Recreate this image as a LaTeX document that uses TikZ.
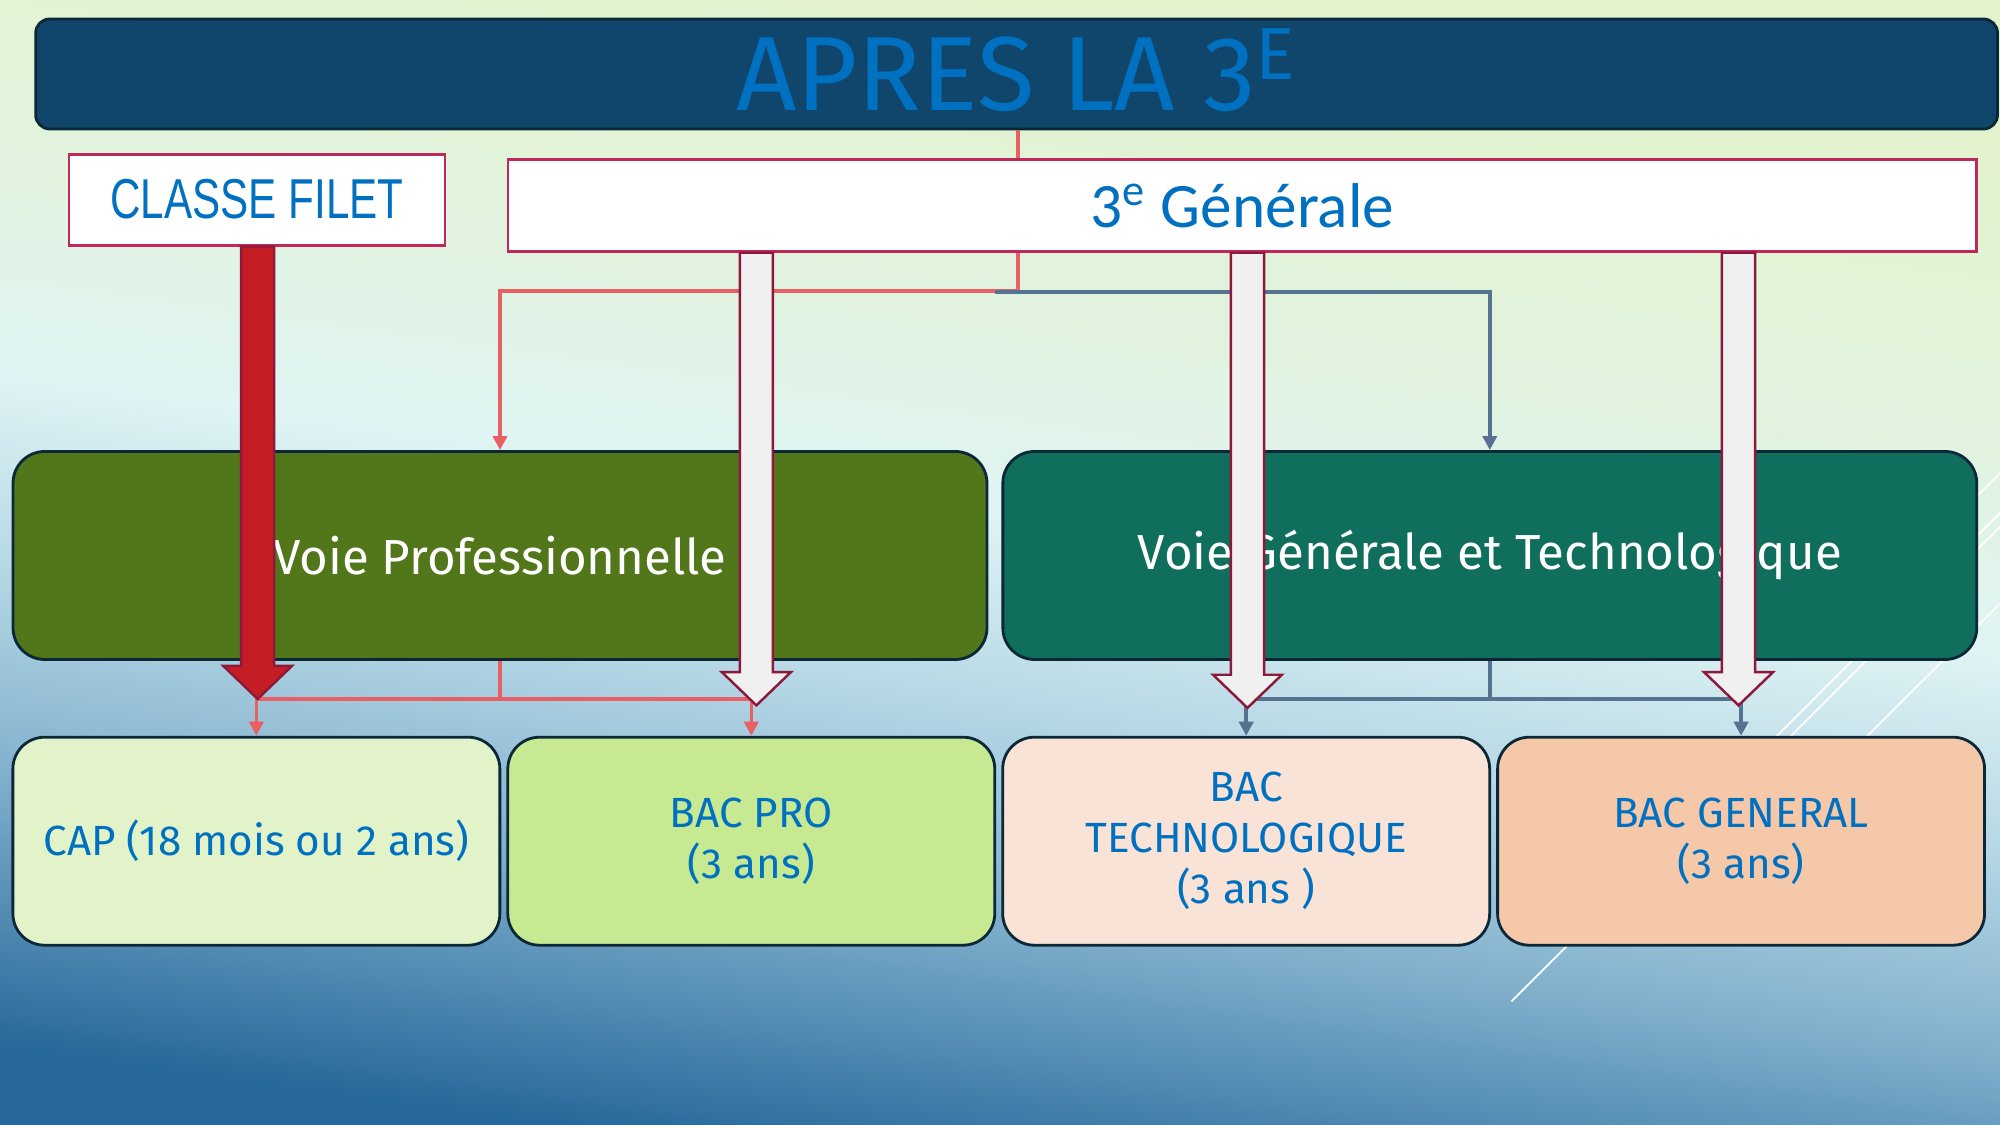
\documentclass[tikz,border=0pt]{standalone}
\usepackage{fontspec}
\setmainfont{Fira Sans}
\newfontfamily\calib{Carlito}
\newfontfamily\tahom{Liberation Sans}
\usetikzlibrary{positioning}
\usetikzlibrary{calc}
\usetikzlibrary{arrows.meta}
\definecolor{bgtop}{RGB}{227,243,203}
\definecolor{bggreen}{RGB}{225,243,223}
\definecolor{bgcyan}{RGB}{224,244,244}
\definecolor{bgblue}{RGB}{181,215,229}
\definecolor{bglow}{RGB}{130,177,205}
\definecolor{bgbot}{RGB}{40,105,155}
\definecolor{titlefill}{RGB}{16,70,107}
\definecolor{boxline}{RGB}{12,40,55}
\definecolor{txtblue}{RGB}{0,112,192}
\definecolor{rimred}{RGB}{190,40,90}
\definecolor{profill}{RGB}{82,118,26}
\definecolor{gtfill}{RGB}{16,110,92}
\definecolor{capfill}{RGB}{226,243,201}
\definecolor{bprofill}{RGB}{199,233,145}
\definecolor{techfill}{RGB}{248,227,214}
\definecolor{genfill}{RGB}{245,200,170}
\definecolor{linered}{RGB}{232,96,100}
\definecolor{lineslate}{RGB}{85,115,145}
\definecolor{blockred}{RGB}{196,30,36}
\definecolor{blockrim}{RGB}{140,25,60}
\pgfdeclareverticalshading{bgfond}{100bp}{color(0bp)=(bgbot); color(25bp)=(bgbot); color(36bp)=(bglow); color(44bp)=(bgblue); color(52bp)=(bgcyan); color(60bp)=(bggreen); color(75bp)=(bgtop); color(100bp)=(bgtop)}
\tikzset{
    titlebox/.style = {rectangle, rounded corners=4pt, draw=boxline, line width=0.8pt, fill=titlefill, inner sep=0pt, minimum width=19.62cm, minimum height=1.1cm, text=txtblue, font=\fontsize{30}{34}\selectfont},
    filetbox/.style = {rectangle, draw=rimred, line width=0.8pt, fill=white, inner sep=0pt, minimum width=3.76cm, minimum height=0.91cm, text=txtblue, font=\tahom\fontsize{16}{18}\selectfont},
    genebox/.style = {rectangle, draw=rimred, line width=0.8pt, fill=white, inner sep=0pt, minimum width=14.69cm, minimum height=0.92cm, text=txtblue, font=\calib\fontsize{18}{20}\selectfont},
    voiebox/.style = {rectangle, rounded corners=9pt, draw=boxline, line width=0.8pt, inner sep=0pt, minimum width=9.74cm, minimum height=2.08cm, text=white, font=\fontsize{14}{16}\selectfont},
    bacbox/.style = {rectangle, rounded corners=9pt, draw=boxline, line width=0.8pt, inner sep=0pt, minimum width=4.87cm, minimum height=2.08cm, align=center, text=txtblue, font=\fontsize{12}{14.5}\selectfont},
    edger/.style = {draw=linered, line width=1pt, -{Triangle[width=4pt,length=4pt]}},
    edgeb/.style = {draw=lineslate, line width=1pt, -{Triangle[width=4pt,length=4pt]}},
    blockr/.style = {fill=blockred, draw=blockrim, line width=0.7pt, line join=miter},
    blockw/.style = {fill=black!6, draw=blockrim, line width=0.7pt, line join=miter},
    deco/.style = {draw=white, line width=0.5pt}
}
% fat arrow: style, start node, tip
\newcommand{\fatarrow}[3]{%
  \draw[#1] ($(#2 -| #3)+(-13,0)$) -- ($(#3)+(-13,-26)$) -- ++(-14,0) -- (#3)
    -- ++(27,-26) -- ++(-14,0) -- ($(#2 -| #3)+(13,0)$) -- cycle;}

\begin{document}
\begin{tikzpicture}[x=0.012755cm,y=-0.012755cm]
\shade[shading=bgfond, shading angle=-8] (0,0) rectangle (1568,882);
\useasboundingbox (0,0) rectangle (1568,882);
\foreach \xa/\ya/\xb/\yb in {1185/785/1568/402, 1400/581/1568/413, 1463/578/1568/473, 1500/439/1568/371}
  \draw[deco] (\xa,\ya) -- (\xb,\yb);
%
\node[titlebox] at (797,58) (titre) {\raisebox{2.5pt}{APRES LA 3\textsuperscript{E}}};
\node[filetbox] at (201.5,156.5) (filet) {\scalebox{0.75}[1]{CLASSE FILET}};
\node[genebox] at (974,161) (gen3) {3\textsuperscript{e} Générale};
\node[voiebox, fill=profill] at (392,435.5) (vpro) {Voie Professionnelle};
\node[voiebox, fill=gtfill] at (1168,435.5) (vgt) {Voie Générale et Technologique};
\node[bacbox, fill=capfill] at (201,659.5) (cap) {CAP (18 mois ou 2 ans)};
\node[bacbox, fill=bprofill] at (589,659.5) (bpro) {BAC PRO\\ (3 ans)};
\node[bacbox, fill=techfill] at (977,659.5) (btech) {BAC\\ TECHNOLOGIQUE\\ (3 ans )};
\node[bacbox, fill=genfill] at (1365,659.5) (bgen) {BAC GENERAL\\ (3 ans)};
%
\coordinate (split) at (798,228);
\coordinate (splitb) at (780,229);
\coordinate (jpro) at ($(vpro.south)+(0,30)$);
\coordinate (jgt) at ($(vgt.south)+(0,30)$);
\coordinate (tip1) at (202,548);
\coordinate (tip2) at (593,553);
\coordinate (tip3) at (978,555);
\coordinate (tip4) at (1363,553);
%
\draw[edger,-] (titre.south -| split) -- (gen3.north -| split);
\draw[edger] (gen3.south -| split) -- (split) -| (vpro.north);
\draw[edgeb] (splitb) -| (vgt.north);
\draw[edger,-] (vpro.south) -- (jpro);
\draw[edger] (jpro) -| (cap.north);
\draw[edger] (jpro) -| (bpro.north);
\draw[edgeb,-] (vgt.south) -- (jgt);
\draw[edgeb] (jgt) -| (btech.north);
\draw[edgeb] (jgt) -| (bgen.north);
%
\fatarrow{blockr}{filet.south}{tip1}
\foreach \t in {tip2,tip3,tip4}{
  \fatarrow{blockw}{gen3.south}{\t}
}

\end{tikzpicture}
\end{document}
